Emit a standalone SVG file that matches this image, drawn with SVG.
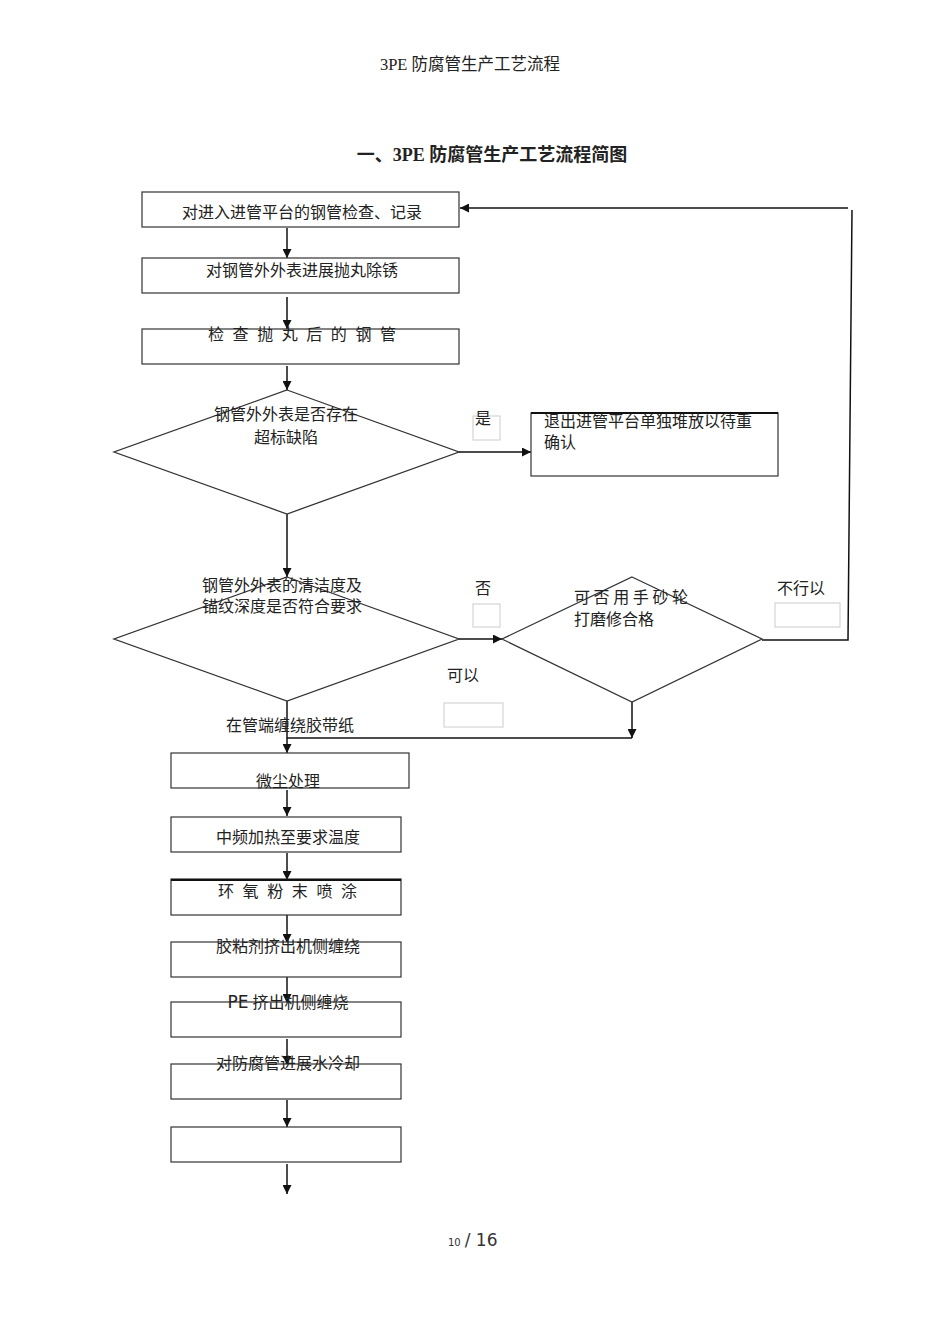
<svg xmlns="http://www.w3.org/2000/svg" width="950" height="1344" viewBox="0 0 950 1344">
<style>
.t{font-family:"Liberation Serif","Noto Sans CJK SC",serif;font-size:16px;fill:#222}
.box{fill:#fff;stroke:#333;stroke-width:1.2}
.dia{fill:#fff;stroke:#333;stroke-width:1.3}
.lbl{fill:#fff;stroke:#ccc;stroke-width:1}
.ln{fill:none;stroke:#111;stroke-width:1.5}
.ar{fill:none;stroke:#111;stroke-width:1.5;marker-end:url(#ah)}
</style>
<defs>
<marker id="ah" viewBox="0 0 10 10" refX="10" refY="5" markerWidth="9" markerHeight="9" markerUnits="userSpaceOnUse" orient="auto">
<path d="M0,0 L10,5 L0,10 z" fill="#111"/>
</marker>
</defs>
<rect width="950" height="1344" fill="#fff"/>
<text class="t" x="470" y="70" style="font-size:16.5px" text-anchor="middle">3PE 防腐管生产工艺流程</text>
<text class="t" x="492" y="161" style="font-size:18px;font-weight:bold" text-anchor="middle">一、3PE 防腐管生产工艺流程简图</text>

<g id="connectors">
<line class="ar" x1="287" y1="228" x2="287" y2="258"/>
<line class="ar" x1="287" y1="297" x2="287" y2="329"/>
<line class="ar" x1="287" y1="366" x2="287" y2="390"/>
<line class="ar" x1="459" y1="452" x2="531" y2="452"/>
<line class="ar" x1="287" y1="514" x2="287" y2="577"/>
<line class="ar" x1="459" y1="639" x2="502" y2="639"/>
<path class="ln" d="M762,640 L848,640 L852,210"/>
<line class="ar" x1="848" y1="208" x2="460" y2="208"/>
<line class="ar" x1="632" y1="702" x2="632" y2="738"/>
<line class="ln" x1="632" y1="738" x2="287" y2="738"/>
<line class="ar" x1="287" y1="701" x2="287" y2="753"/>
<line class="ar" x1="287" y1="790" x2="287" y2="816"/>
<line class="ar" x1="287" y1="853" x2="287" y2="880"/>
<line class="ar" x1="287" y1="915" x2="287" y2="943"/>
<line class="ar" x1="287" y1="977" x2="287" y2="1003"/>
<line class="ar" x1="287" y1="1039" x2="287" y2="1065"/>
<line class="ar" x1="287" y1="1100" x2="287" y2="1127"/>
<line class="ar" x1="287" y1="1164" x2="287" y2="1194"/>
</g>

<g id="n1"><rect class="box" x="142" y="192" width="317" height="35"/><text class="t" x="302" y="218" text-anchor="middle">对进入进管平台的钢管检查、记录</text></g>
<g id="n2"><rect class="box" x="142" y="258" width="317" height="35"/><text class="t" x="302" y="276" text-anchor="middle">对钢管外外表进展抛丸除锈</text></g>
<g id="n3"><rect class="box" x="142" y="329" width="317" height="35"/><text class="t" x="208" y="340" textLength="188" lengthAdjust="spacing">检 查 抛 丸 后 的 钢 管</text></g>
<g id="d1"><polygon class="dia" points="287,390 459,452 287,514 114,452"/><text class="t" x="286" y="420" text-anchor="middle">钢管外外表是否存在</text><text class="t" x="286" y="443" text-anchor="middle">超标缺陷</text></g>
<g id="l-yes"><rect class="lbl" x="473" y="416" width="27" height="24"/><text class="t" x="475" y="424">是</text></g>
<g id="n-exit"><rect class="box" x="531" y="413" width="247" height="63"/><line x1="531" y1="413" x2="778" y2="413" stroke="#111" stroke-width="2"/><text class="t" x="544" y="427">退出进管平台单独堆放以待重</text><text class="t" x="544" y="448">确认</text></g>
<g id="d2"><polygon class="dia" points="287,577 459,639 287,701 114,639"/><text class="t" x="202" y="591">钢管外外表的清洁度及</text><text class="t" x="202" y="612">锚纹深度是否符合要求</text></g>
<g id="l-no"><rect class="lbl" x="473" y="604" width="27" height="23"/><text class="t" x="475" y="594">否</text></g>
<g id="d3"><polygon class="dia" points="632,577 762,639 632,702 502,639"/><text class="t" x="574" y="603" textLength="114" lengthAdjust="spacing">可 否 用 手 砂 轮</text><text class="t" x="574" y="625">打磨修合格</text></g>
<g id="l-notok"><rect class="lbl" x="775" y="603" width="65" height="24"/><text class="t" x="777" y="594">不行以</text></g>
<g id="l-ok"><rect class="lbl" x="444" y="703" width="59" height="24"/><text class="t" x="447" y="681">可以</text></g>
<g id="l-tape"><text class="t" x="290" y="731" text-anchor="middle">在管端缠绕胶带纸</text></g>
<g id="n4"><rect class="box" x="171" y="753" width="238" height="35"/><text class="t" x="288" y="787" text-anchor="middle">微尘处理</text></g>
<g id="n5"><rect class="box" x="171" y="817" width="230" height="35"/><text class="t" x="288" y="843" text-anchor="middle">中频加热至要求温度</text></g>
<g id="n6"><rect class="box" x="171" y="879" width="230" height="36"/><line x1="171" y1="880" x2="401" y2="880" stroke="#111" stroke-width="2"/><text class="t" x="218" y="897" textLength="139" lengthAdjust="spacing">环 氧 粉 末 喷 涂</text></g>
<g id="n7"><rect class="box" x="171" y="942" width="230" height="35"/><text class="t" x="288" y="952" text-anchor="middle">胶粘剂挤出机侧缠绕</text></g>
<g id="n8"><rect class="box" x="171" y="1002" width="230" height="35"/><text class="t" x="288" y="1008" text-anchor="middle"><tspan font-family="DejaVu Sans" font-size="17">PE</tspan> 挤出机侧缠烧</text></g>
<g id="n9"><rect class="box" x="171" y="1064" width="230" height="35"/><text class="t" x="288" y="1069" text-anchor="middle">对防腐管进展水冷却</text></g>
<g id="n10"><rect class="box" x="171" y="1127" width="230" height="35"/></g>
<text x="448" y="1246" font-family="DejaVu Sans" font-size="10" fill="#333">10<tspan font-size="17" dx="4">/ 16</tspan></text>
</svg>
